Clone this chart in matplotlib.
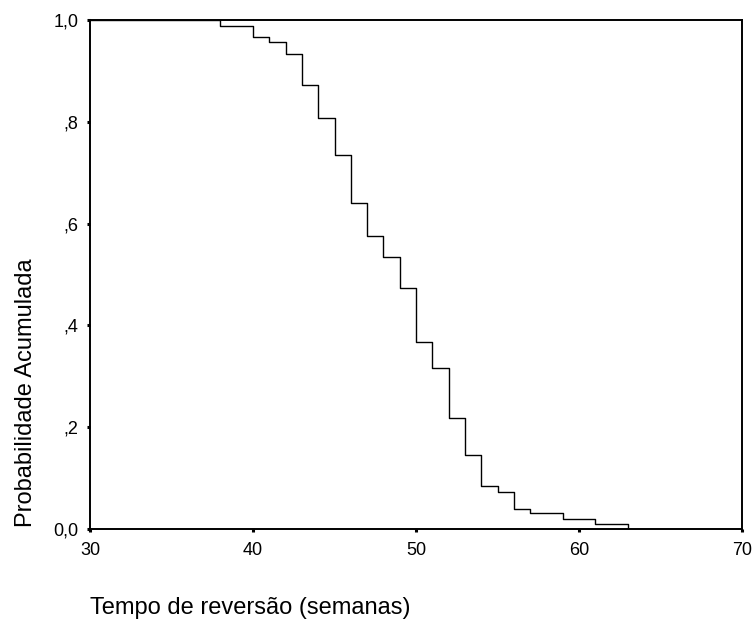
import matplotlib
matplotlib.use("Agg")
import matplotlib.pyplot as plt
from matplotlib.ticker import FuncFormatter

plt.rcParams['font.family'] = ['Liberation Sans', 'DejaVu Sans']

# Step function: time (weeks) and cumulative probability from each step onward
weeks = [30, 38, 40, 41, 42, 43, 44, 45, 46, 47, 48, 49, 50, 51, 52, 53, 54, 55, 56, 57, 59, 61, 63]
prob = [1.0, 0.988, 0.966, 0.957, 0.934, 0.872, 0.808, 0.735, 0.641, 0.576, 0.535, 0.474,
        0.367, 0.316, 0.219, 0.146, 0.084, 0.073, 0.040, 0.031, 0.020, 0.010, 0.0]

xticks = [30, 40, 50, 60, 70]
yticks = [0.0, 0.2, 0.4, 0.6, 0.8, 1.0]

fig = plt.figure(figsize=(7.55, 6.19), dpi=100)
ax = fig.add_axes([90/755, 1-529/619, (742-90)/755, (529-20)/619])

ax.step(weeks, prob, where='post', color='black', lw=1.0)

ax.set_xlim(30, 70)
ax.set_ylim(0, 1.0)
ax.set_xticks(xticks)
ax.set_yticks(yticks)

def yfmt(v, pos):
    s = f"{v:.1f}".replace('.', ',')
    if s.startswith('0,') and v != 0:
        s = s[1:]
    return s

ax.yaxis.set_major_formatter(FuncFormatter(yfmt))
ax.tick_params(direction='out', length=2.2, width=2.2, labelsize=13, color='black')
ax.tick_params(axis='x', pad=7)
ax.tick_params(axis='y', pad=6)
for sp in ax.spines.values():
    sp.set_linewidth(1.4)
    sp.set_color('black')

fig.text(90/755, 1-614/619, 'Tempo de reversão (semanas)', ha='left', va='baseline', fontsize=17)
fig.text(26/755, 1-393/619, 'Probabilidade Acumulada', ha='center', va='center', rotation=90, fontsize=17)

fig.savefig('out.png', dpi=100)
